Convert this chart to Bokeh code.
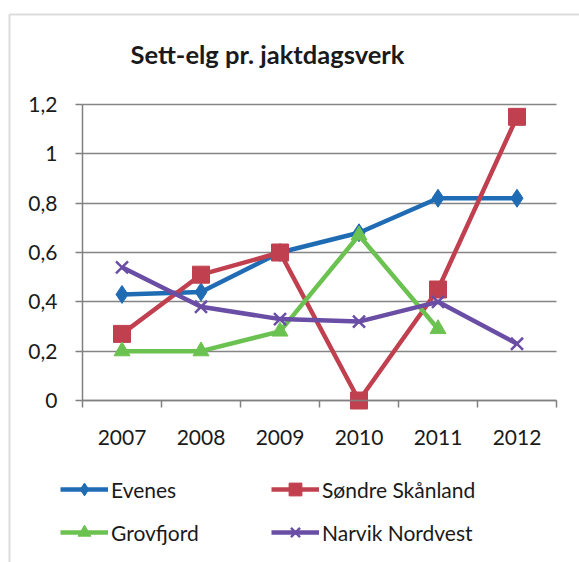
from bokeh.plotting import figure
from bokeh.models import (FixedTicker, Legend, LegendItem, Range1d, Label,
                          ColumnDataSource, BoxAnnotation)
from bokeh.embed import file_html
from bokeh.resources import INLINE

years = ["2007", "2008", "2009", "2010", "2011", "2012"]
evenes = [0.43, 0.44, 0.60, 0.68, 0.82, 0.82]
sondre = [0.27, 0.51, 0.60, 0.00, 0.45, 1.15]
grovfjord = [0.20, 0.20, 0.28, 0.67, 0.29, float("nan")]
narvik = [0.54, 0.38, 0.33, 0.32, 0.40, 0.23]
series_names = ["Evenes", "Søndre Skånland", "Grovfjord", "Narvik Nordvest"]
y_ticks = [0, 0.2, 0.4, 0.6, 0.8, 1.0, 1.2]
y_labels = ["0", "0,2", "0,4", "0,6", "0,8", "1", "1,2"]
title_text = "Sett-elg pr. jaktdagsverk"

FONT = "Lato"
W, H = 579, 562
# plot-area geometry in pixels (layout only)
PL, PR, PT, PB = 82, 556, 104, 400
n = len(years)
ymax = 1.2
xs = list(range(n))

px_per_x = (PR - PL) / n
px_per_y = (PB - PT) / ymax
x0 = -0.5 - PL / px_per_x
x1 = -0.5 + (W - PL) / px_per_x
y0 = -(H - PB) / px_per_y
y1 = PB / px_per_y

p = figure(width=W, height=H, output_backend="svg", toolbar_location=None,
           x_range=Range1d(x0, x1), y_range=Range1d(y0, y1), min_border=0)
p.outline_line_color = None
p.background_fill_color = "white"
p.border_fill_color = "white"

# outer chart border
p.add_layout(BoxAnnotation(left=9, right=W + 20, top=H - 14, bottom=-20,
                           left_units="screen", right_units="screen",
                           top_units="screen", bottom_units="screen",
                           fill_alpha=0, line_color="#8c8c8c", line_width=2))

p.add_layout(Label(x=130, y=H - 53, x_units="screen", y_units="screen",
                   text=title_text, text_font=FONT, text_font_size="25.5px",
                   text_font_style="bold", text_color="#1a1a1a",
                   text_baseline="middle", text_align="left"))

# x axis
p.xaxis.fixed_location = 0
p.xaxis.bounds = (-0.5, n - 0.5)
p.xaxis.ticker = FixedTicker(ticks=xs, minor_ticks=[i - 0.5 for i in range(n + 1)])
p.xaxis.major_label_overrides = {i: y for i, y in enumerate(years)}
p.xaxis.major_tick_out = 0
p.xaxis.major_tick_in = 0
p.xaxis.minor_tick_out = 7
p.xaxis.minor_tick_in = 0
p.xaxis.minor_tick_line_color = "#808080"
p.xaxis.minor_tick_line_width = 1.5
p.xaxis.axis_line_color = "#808080"
p.xaxis.axis_line_width = 1.5
p.xaxis.major_label_standoff = 22
p.xaxis.major_label_text_font = FONT
p.xaxis.major_label_text_font_size = "21px"
p.xaxis.major_label_text_color = "#1a1a1a"

# y axis
p.yaxis.fixed_location = -0.5
p.yaxis.bounds = (0, ymax)
p.yaxis.ticker = FixedTicker(ticks=y_ticks, minor_ticks=[])
p.yaxis.major_label_overrides = {v: s for v, s in zip(y_ticks, y_labels)}
p.yaxis.major_tick_out = 7
p.yaxis.major_tick_in = 0
p.yaxis.major_tick_line_color = "#808080"
p.yaxis.major_tick_line_width = 1.5
p.yaxis.axis_line_color = "#808080"
p.yaxis.axis_line_width = 1.5
p.yaxis.major_label_standoff = 18
p.yaxis.major_label_text_font = FONT
p.yaxis.major_label_text_font_size = "21px"
p.yaxis.major_label_text_color = "#1a1a1a"

p.xgrid.grid_line_color = None
p.ygrid.grid_line_color = "#858585"
p.ygrid.grid_line_width = 1.5
p.ygrid.cross_bounds = (-0.5, n - 0.5)

colors = ["#1f6cb4", "#c0404f", "#6cc251", "#6a4ea5"]
markers = ["diamond", "square", "triangle", "x"]
sizes = [18, 17, 16, 17]
data = [evenes, sondre, grovfjord, narvik]

renderers = []
for name, vals, col, mk, sz in zip(series_names, data, colors, markers, sizes):
    src = ColumnDataSource(dict(x=xs, y=vals))
    ln = p.line("x", "y", source=src, line_color=col, line_width=4.5)
    if mk == "x":
        sc = p.scatter("x", "y", source=src, marker=mk, size=sz, line_color=col,
                       line_width=2.5)
    else:
        sc = p.scatter("x", "y", source=src, marker=mk, size=sz, fill_color=col,
                       line_color=col, line_width=1)
    renderers.append([ln, sc])

def make_legend(idx, loc):
    return Legend(items=[LegendItem(label=series_names[i], renderers=renderers[i]) for i in idx],
                  location=loc, orientation="vertical",
                  label_text_font=FONT, label_text_font_size="21px",
                  label_text_color="#1a1a1a",
                  glyph_width=48, glyph_height=32, label_height=21,
                  label_standoff=3, spacing=11, padding=0, margin=0,
                  border_line_color=None, background_fill_alpha=0)

p.add_layout(make_legend([0, 2], (60, 14)), "center")
p.add_layout(make_legend([1, 3], (271, 14)), "center")

open("out.html", "w").write(file_html(p, INLINE))
